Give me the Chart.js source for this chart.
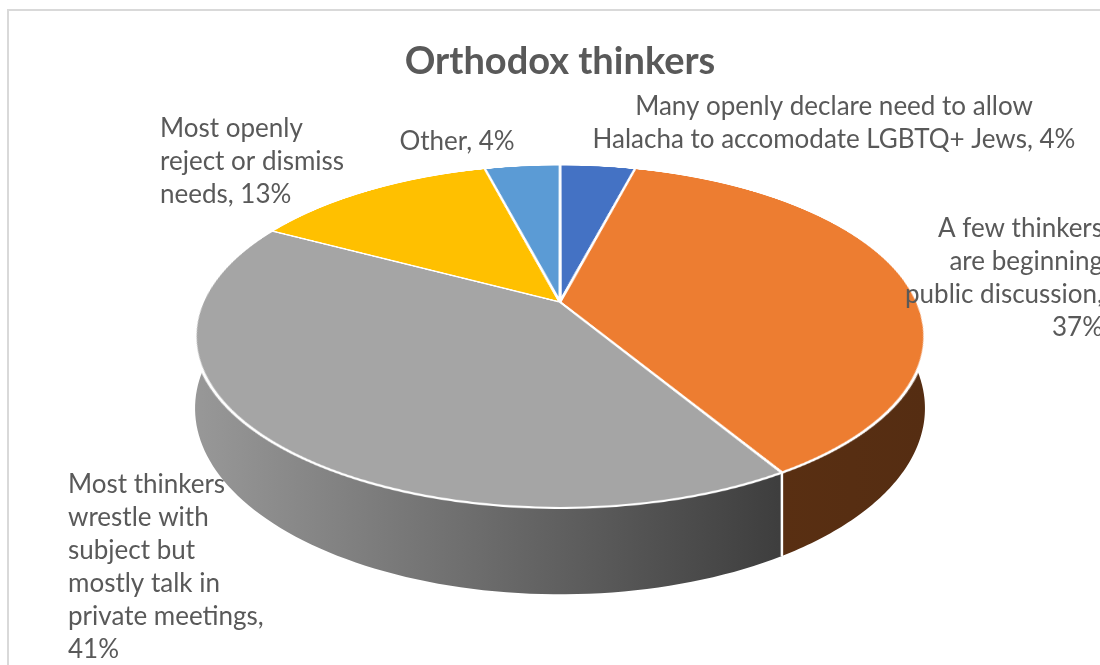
<!DOCTYPE html>
<html>
<head>
<meta charset="utf-8">
<title>Orthodox thinkers</title>
<script src="https://cdn.jsdelivr.net/npm/chart.js@4.4.1/dist/chart.umd.min.js"></script>
<style>
  html, body { margin: 0; padding: 0; background: #fff; }
  #stage { position: relative; width: 1100px; height: 665px; overflow: hidden; }
  #stage canvas { position: absolute; left: 0; top: 0; display: block; }
</style>
</head>
<body>
<div id="stage">
  <canvas id="wallLayer" width="1100" height="665"></canvas>
  <canvas id="pieFace" width="718" height="718"></canvas>
  <canvas id="textLayer" width="1100" height="665"></canvas>
</div>
<script>
// data
const categories = [
  'Many openly declare need to allow Halacha to accomodate LGBTQ+ Jews',
  'A few thinkers are beginning public discussion',
  'Most thinkers wrestle with subject but mostly talk in private meetings',
  'Most openly reject or dismiss needs',
  'Other'
];
const shares = [4, 37, 41, 13, 4];
const sliceColors = ['#4472C4', '#ED7D31', '#A5A5A5', '#FFC000', '#5B9BD5'];

// where each data label sits and how many words go on each line
const labelSpots = [
  { x: 834, y: 115, align: 'center', words: [6, 6] },
  { x: 1103, y: 237, align: 'right', words: [3, 2, 2, 1] },
  { x: 68, y: 493, align: 'left', words: [2, 2, 2, 3, 2, 1] },
  { x: 160, y: 137, align: 'left', words: [2, 3, 2] },
  { x: 457, y: 150, align: 'center', words: [2] }
];

const FONT = 'Lato, "Open Sans", sans-serif';
const TEXT = '#595959';

// 3D view: where the pie centre lands, how far it is tipped back,
// how strong the perspective is and how tall the side wall is
const view = { cx: 560, cy: 302, cosT: 0.4603, persp: 0.201, depth: 69 };

const wallCtx = document.getElementById('wallLayer').getContext('2d');
const textCtx = document.getElementById('textLayer').getContext('2d');

function hexRgb(hex) {
  const n = parseInt(hex.slice(1), 16);
  return [(n >> 16) & 255, (n >> 8) & 255, n & 255];
}

// side walls get darker from left to right
function shadeAt(t) {
  return Math.max(0.36, 0.92 - 0.68 * t);
}

// a point on the rim (angle a, as Chart.js measures it) seen through the tilt
function rimPoint(R, a, drop) {
  const k = 1 / (1 - view.persp * Math.sin(a));
  return [view.cx + R * Math.cos(a) * k, view.cy + (R * Math.sin(a) * view.cosT + drop) * k];
}

function drawWalls(ctx, arcs) {
  const R = arcs[0].outerRadius;
  const halfW = R / Math.sqrt(1 - view.persp * view.persp);
  arcs.forEach((arc, i) => {
    const a1 = Math.max(arc.startAngle, 0);
    const a2 = Math.min(arc.endAngle, Math.PI);
    if (a2 <= a1) return;
    const rgb = hexRgb(sliceColors[i]);
    const grad = ctx.createLinearGradient(view.cx - halfW, 0, view.cx + halfW, 0);
    [0, 0.8, 1].forEach(t => {
      const f = shadeAt(t);
      grad.addColorStop(t, 'rgb(' + rgb.map(c => Math.round(c * f)).join(',') + ')');
    });
    const steps = 80;
    ctx.beginPath();
    for (let s = 0; s <= steps; s++) {
      const p = rimPoint(R, a1 + (a2 - a1) * s / steps, 0);
      s === 0 ? ctx.moveTo(p[0], p[1]) : ctx.lineTo(p[0], p[1]);
    }
    for (let s = steps; s >= 0; s--) {
      const p = rimPoint(R, a1 + (a2 - a1) * s / steps, view.depth);
      ctx.lineTo(p[0], p[1]);
    }
    ctx.closePath();
    ctx.fillStyle = grad;
    ctx.fill();
  });
  // white seams where slices meet on the visible wall
  ctx.strokeStyle = '#fff';
  ctx.lineWidth = 2.5;
  arcs.forEach(arc => {
    const a = arc.startAngle;
    if (a > 0.05 && a < Math.PI - 0.05) {
      const top = rimPoint(R, a, 0);
      const bottom = rimPoint(R, a, view.depth);
      ctx.beginPath();
      ctx.moveTo(top[0], top[1]);
      ctx.lineTo(bottom[0], bottom[1]);
      ctx.stroke();
    }
  });
}

function drawTexts(ctx, chart) {
  const values = chart.data.datasets[0].data;
  ctx.fillStyle = TEXT;
  ctx.textBaseline = 'alphabetic';
  ctx.textAlign = 'center';
  ctx.font = 'bold 38px ' + FONT;
  ctx.fillText('Orthodox thinkers', 560, 74);

  ctx.font = '26px ' + FONT;
  chart.data.labels.forEach((name, i) => {
    const spot = labelSpots[i];
    const words = (name + ', ' + values[i] + '%').split(' ');
    ctx.textAlign = spot.align;
    let w = 0;
    spot.words.forEach((n, line) => {
      ctx.fillText(words.slice(w, w + n).join(' '), spot.x, spot.y + line * 33);
      w += n;
    });
  });
}

// tips the pie canvas back in CSS 3D, then paints walls, frame and text
const tiltedPie = {
  id: 'tiltedPie',
  afterDraw(chart) {
    const arcs = chart.getDatasetMeta(0).data;
    const arc = arcs[0];
    const sinT = Math.sqrt(1 - view.cosT * view.cosT);
    const dist = arc.outerRadius * sinT / view.persp;
    const el = chart.canvas.style;
    el.left = (view.cx - arc.x) + 'px';
    el.top = (view.cy - arc.y) + 'px';
    el.transformOrigin = arc.x + 'px ' + arc.y + 'px';
    el.transform = 'perspective(' + dist.toFixed(1) + 'px) rotateX(' +
      (Math.acos(view.cosT) * 180 / Math.PI).toFixed(3) + 'deg)';

    wallCtx.clearRect(0, 0, 1100, 665);
    wallCtx.strokeStyle = '#d9d9d9';
    wallCtx.lineWidth = 2;
    wallCtx.strokeRect(8, 10, 1120, 700);
    drawWalls(wallCtx, arcs);

    textCtx.clearRect(0, 0, 1100, 665);
    drawTexts(textCtx, chart);
  }
};

new Chart(document.getElementById('pieFace'), {
  type: 'pie',
  data: {
    labels: categories,
    datasets: [{
      data: shares,
      backgroundColor: sliceColors,
      borderColor: '#ffffff',
      borderWidth: 3
    }]
  },
  options: {
    responsive: false,
    animation: false,
    events: [],
    layout: { padding: 0 },
    plugins: {
      legend: { display: false },
      tooltip: { enabled: false }
    }
  },
  plugins: [tiltedPie]
});
</script>
</body>
</html>
